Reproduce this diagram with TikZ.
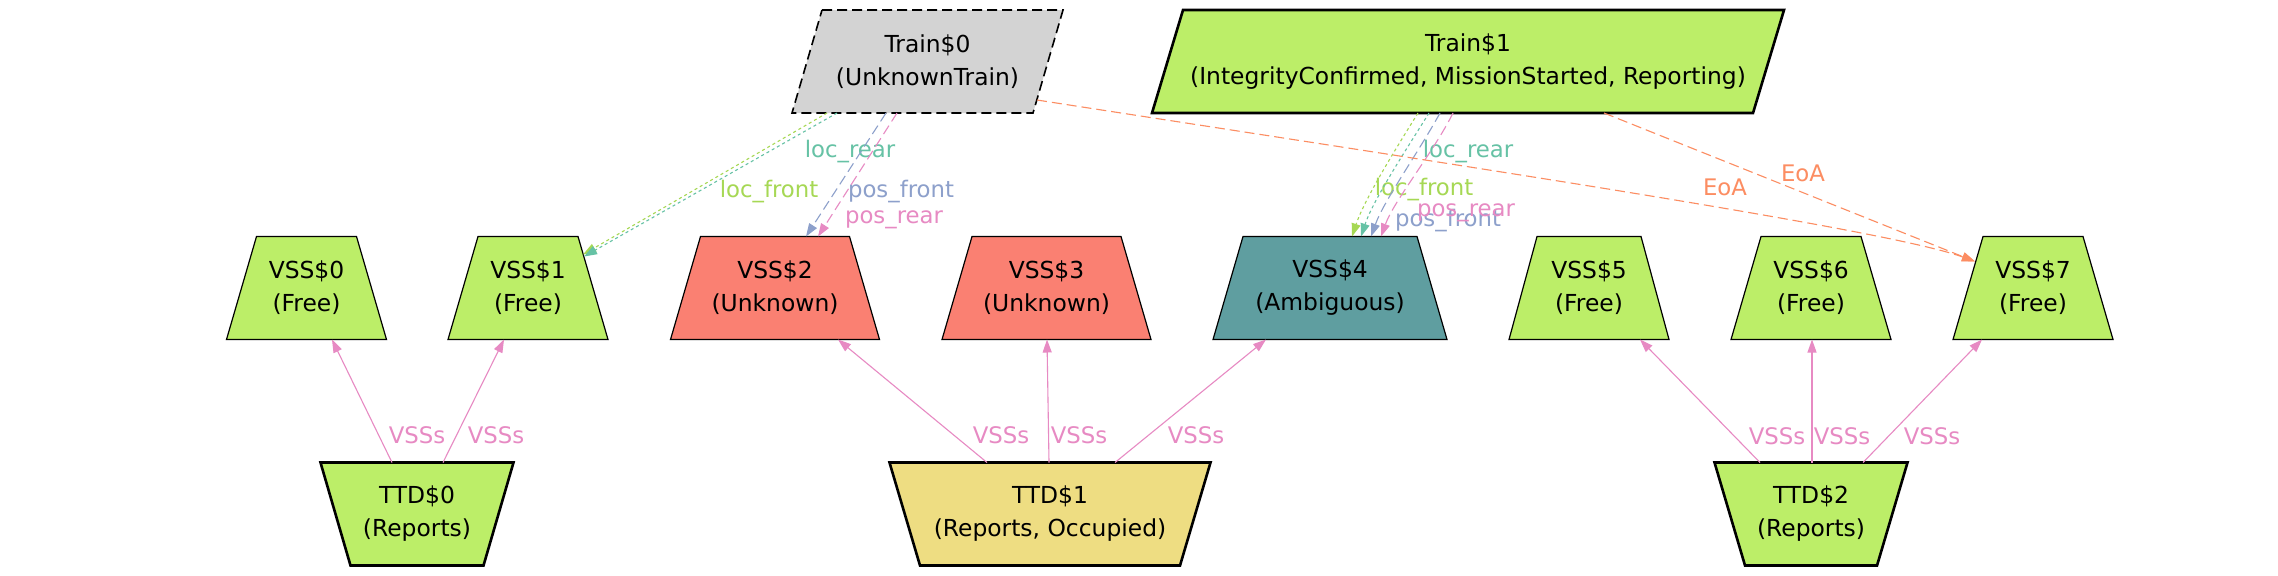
\documentclass[tikz,border=0pt]{standalone}
\usepackage{fontspec}
\setmainfont{DejaVu Sans}
\usetikzlibrary{arrows.meta}
\definecolor{cgreen}{HTML}{BCEE68}
\definecolor{csalmon}{HTML}{FA8072}
\definecolor{ccadet}{HTML}{5F9EA0}
\definecolor{cgold}{HTML}{EEDD82}
\definecolor{cgray}{HTML}{D3D3D3}
\definecolor{eteal}{HTML}{66C2A5}
\definecolor{eorange}{HTML}{FC8D62}
\definecolor{eblue}{HTML}{8DA0CB}
\definecolor{epink}{HTML}{E78AC3}
\definecolor{egreen}{HTML}{A6D854}
% #1 name, #2 style, #3 cx, #4 cy, #5 top half width, #6 bottom half width, #7 slant shift, #8 text
\newcommand\shapebox[8]{%
  \path[#2] (#3-#5+#7,#4-51.5) -- (#3+#5+#7,#4-51.5) -- (#3+#6-#7,#4+51.5) -- (#3-#6-#7,#4+51.5) -- cycle;
  \node[txt] (#1) at (#3,#4) {#8};%
}
\tikzset{
  txt/.style={align=center, inner sep=0pt, outer sep=0pt, minimum height=51.5pt,
    font=\fontsize{11.7}{16.5}\selectfont},
  trainunk/.style={fill=cgray, draw=black, line width=0.8pt, dash pattern=on 5pt off 2.5pt},
  trainok/.style={fill=cgreen, draw=black, line width=1.3pt},
  vssfree/.style={fill=cgreen, draw=black, line width=0.6pt},
  vssunk/.style={fill=csalmon, draw=black, line width=0.6pt},
  vssamb/.style={fill=ccadet, draw=black, line width=0.6pt},
  ttdrep/.style={fill=cgreen, draw=black, line width=1.3pt},
  ttdocc/.style={fill=cgold, draw=black, line width=1.3pt},
  edge/.style={line width=0.55pt, -{Triangle[length=6.5pt,width=4.5pt]}},
  vssedge/.style={edge, draw=epink},
  dotedge/.style={edge, dash pattern=on 1.5pt off 1.5pt},
  dashedge/.style={edge, dash pattern=on 5pt off 2.5pt},
  lbl/.style={inner sep=0pt, font=\fontsize{11.4}{13}\selectfont},
}
\begin{document}
\begin{tikzpicture}[x=0.5pt, y=-0.5pt]
\path[fill=white] (0,0) rectangle (2278,575);
\useasboundingbox (0,0) rectangle (2278,575);

% Trains
\shapebox{t0}{trainunk}{927.5}{61.5}{120.5}{120.5}{15}{Train\$0\\(UnknownTrain)}
\shapebox{t1}{trainok}{1468}{61.5}{300.5}{300.5}{15.5}{Train\$1\\(IntegrityConfirmed, MissionStarted, Reporting)}

% VSS
\shapebox{v0}{vssfree}{306.5}{288}{50}{80}{0}{VSS\$0\\(Free)}
\shapebox{v1}{vssfree}{528}{288}{50}{80}{0}{VSS\$1\\(Free)}
\shapebox{v2}{vssunk}{775}{288}{74.5}{104.5}{0}{VSS\$2\\(Unknown)}
\shapebox{v3}{vssunk}{1046.5}{288}{74.5}{104.5}{0}{VSS\$3\\(Unknown)}
\shapebox{v4}{vssamb}{1330}{288}{87}{117}{0}{VSS\$4\\(Ambiguous)}
\shapebox{v5}{vssfree}{1589}{288}{52}{80}{0}{VSS\$5\\(Free)}
\shapebox{v6}{vssfree}{1811}{288}{50}{80}{0}{VSS\$6\\(Free)}
\shapebox{v7}{vssfree}{2033}{288}{50}{80}{0}{VSS\$7\\(Free)}

% TTD
\shapebox{d0}{ttdrep}{417}{514}{96.5}{66.5}{0}{TTD\$0\\(Reports)}
\shapebox{d1}{ttdocc}{1050}{514}{160.5}{130}{0}{TTD\$1\\(Reports, Occupied)}
\shapebox{d2}{ttdrep}{1811}{514}{96.5}{66}{0}{TTD\$2\\(Reports)}

% TTD -> VSS
\draw[vssedge] ([shift={(-25,0)}]d0.north) -- ([shift={(25.5,0)}]v0.south)
  node[lbl, text=epink] (la) at (417,435) {VSSs};
\draw[vssedge] ([shift={(26,0)}]d0.north) -- ([shift={(-24,0)}]v1.south)
  node[lbl, text=epink] (lb) at (496,435) {VSSs};
\draw[vssedge] ([shift={(-63,0)}]d1.north) -- ([shift={(63,0)}]v2.south)
  node[lbl, text=epink] (lc) at (1001,435) {VSSs};
\draw[vssedge] ([shift={(-1,0)}]d1.north) -- ([shift={(0.5,0)}]v3.south)
  node[lbl, text=epink] (ld) at (1079,435) {VSSs};
\draw[vssedge] ([shift={(65,0)}]d1.north) -- ([shift={(-64,0)}]v4.south)
  node[lbl, text=epink] (le) at (1196,435) {VSSs};
\draw[vssedge] ([shift={(-51,0)}]d2.north) -- ([shift={(51,0)}]v5.south)
  node[lbl, text=epink] (lf) at (1777,436) {VSSs};
\draw[vssedge] ([shift={(1,0)}]d2.north) -- ([shift={(1,0)}]v6.south)
  node[lbl, text=epink] (lg) at (1842,436) {VSSs};
\draw[vssedge] ([shift={(52,0)}]d2.north) -- ([shift={(-51,0)}]v7.south)
  node[lbl, text=epink] (lh) at (1932,436) {VSSs};

% Train$0 -> VSS$1
\draw[dotedge, egreen] ([shift={(-100.5,0)}]t0.south) -- ([shift={(55,18)}]v1.north)
  node[lbl, text=egreen] (lt0a) at (769,192) {loc\_front};
\draw[dotedge, eteal] ([shift={(-90.5,0)}]t0.south) -- ([shift={(56,20)}]v1.north)
  node[lbl, text=eteal] (lt0b) at (850,152) {loc\_rear};
% Train$0 -> VSS$2
\draw[dashedge, eblue] ([shift={(-41.5,0)}]t0.south) -- ([shift={(31,0)}]v2.north)
  node[lbl, text=eblue] (lt0c) at (901,192) {pos\_front};
\draw[dashedge, epink] ([shift={(-30.5,0)}]t0.south) -- ([shift={(43,0)}]v2.north)
  node[lbl, text=epink] (lt0d) at (894,220) {pos\_rear};

% Train$1 -> VSS$4
\draw[dotedge, egreen] ([shift={(-50,0)}]t1.south) .. controls ([shift={(-75,40)}]t1.south) and ([shift={(34,-36)}]v4.north) .. ([shift={(22,0)}]v4.north)
  node[lbl, text=egreen] (lt1a) at (1424,190) {loc\_front};
\draw[dotedge, eteal] ([shift={(-39,0)}]t1.south) .. controls ([shift={(-64,40)}]t1.south) and ([shift={(43,-36)}]v4.north) .. ([shift={(31,0)}]v4.north)
  node[lbl, text=eteal] (lt1b) at (1468,152) {loc\_rear};
\draw[dashedge, eblue] ([shift={(-28,0)}]t1.south) .. controls ([shift={(-50,40)}]t1.south) and ([shift={(54,-36)}]v4.north) .. ([shift={(41,0)}]v4.north)
  node[lbl, text=eblue] (lt1c) at (1448,221) {pos\_front};
\draw[dashedge, epink] ([shift={(-15,0)}]t1.south) .. controls ([shift={(-35,40)}]t1.south) and ([shift={(64,-36)}]v4.north) .. ([shift={(51,0)}]v4.north)
  node[lbl, text=epink] (lt1d) at (1466,213) {pos\_rear};

% EoA
\draw[dashedge, eorange] ([shift={(109.5,38.5)}]t0.center) .. controls ([shift={(509.5,100.5)}]t0.center) and ([shift={(-148,-8)}]v7.north) .. ([shift={(-58,25)}]v7.north)
  node[lbl, text=eorange] (le1) at (1725,187) {EoA};
\draw[dashedge, eorange] ([shift={(136,0)}]t1.south) -- ([shift={(-58,25)}]v7.north)
  node[lbl, text=eorange] (le2) at (1803,173) {EoA};
\end{tikzpicture}
\end{document}
